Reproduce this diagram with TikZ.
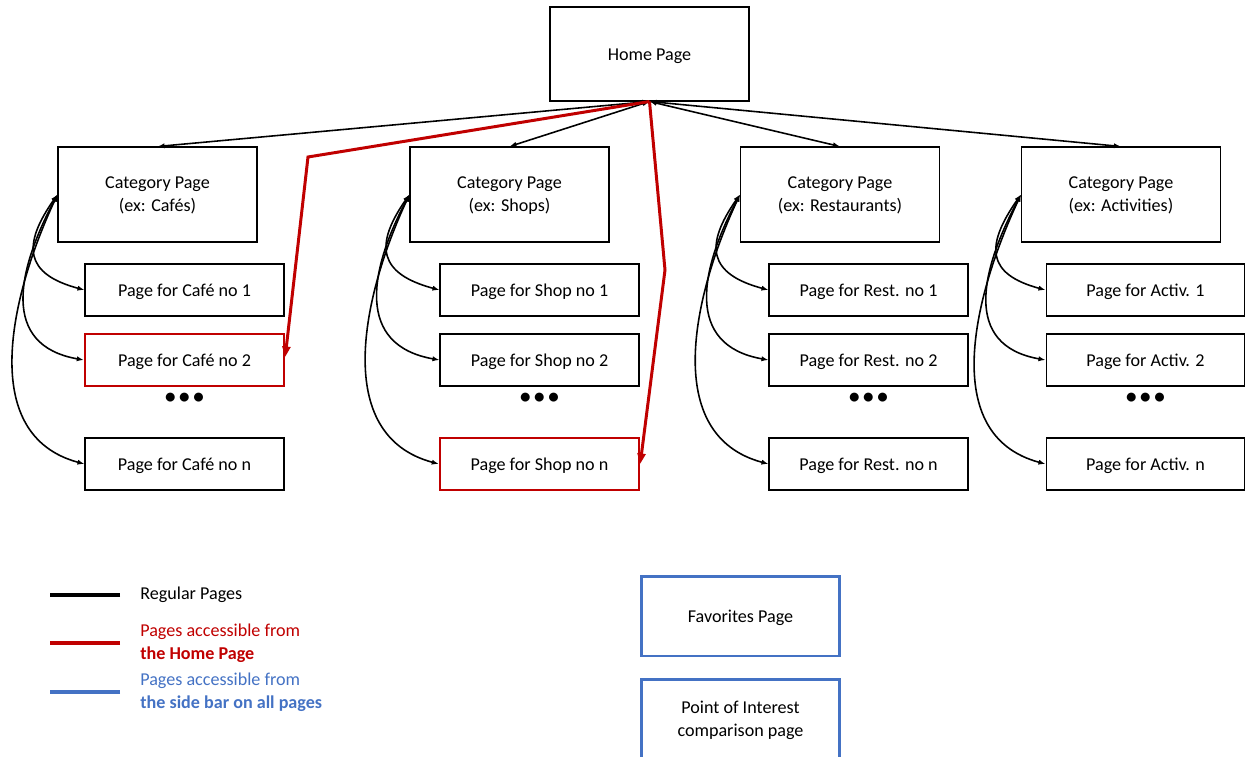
\documentclass[tikz,border=0pt]{standalone}
\usepackage{fontspec}
\setmainfont{Carlito}
\usetikzlibrary{arrows.meta}
\definecolor{homered}{HTML}{C00000}
\definecolor{sideblue}{HTML}{4472C4}
\tikzset{
	textspot/.style={align=center, text height=1em, text depth=0.22em},
	twoline/.style={align=center, text depth=0pt},
	catbox/.style={draw, line width=0.6pt, minimum width=3.98cm, minimum height=1.9cm, twoline},
	pagebox/.style={draw, line width=0.6pt, minimum width=3.98cm, minimum height=1.04cm, textspot},
	redbox/.style={pagebox, draw=homered, line width=1.4pt},
	bluebox/.style={draw=sideblue, line width=1.7pt, minimum width=3.98cm, minimum height=1.6cm},
	twoway/.style={{Latex[length=4pt,width=3pt]}-{Latex[length=4pt,width=3pt]}, line width=0.9pt},
	redpath/.style={-{Triangle[length=6pt,width=4.5pt]}, homered, line width=1.7pt},
	legline/.style={line width=1.8pt},
	legtext/.style={anchor=west, align=left, inner sep=0pt},
	dots/.style={font=\bfseries\fontsize{12}{12}\selectfont}
}
\begin{document}
\begin{tikzpicture}[x=0.02cm, y=-0.02cm, font=\fontsize{10.3}{13}\selectfont]
				\useasboundingbox (0, 0) rectangle (1245, 757);
				\clip (0, 0) rectangle (1245, 757);
				% home and categories
				\node [catbox, textspot, minimum height=1.88cm] (home) at (649.5, 54) {Home Page};
				\node [catbox] (cafes) at (157.5, 194.5) {Category Page\\(ex: Cafés)};
				\node [catbox] (shops) at (509.5, 194.5) {Category Page\\(ex: Shops)};
				\node [catbox] (rests) at (840, 194.5) {Category Page\\(ex: Restaurants)};
				\node [catbox] (activs) at (1121, 194.5) {Category Page\\(ex: Activities)};
				% cafe pages
				\node [pagebox] (cafe1) at (184.5, 290) {Page for Café no 1};
				\node [redbox] (cafe2) at (184.5, 360) {Page for Café no 2};
				\node [dots] (cafedots) at (184.5, 398) {•\,•\,•};
				\node [pagebox] (cafen) at (184.5, 464) {Page for Café no n};
				% shop pages
				\node [pagebox] (shop1) at (539.5, 290) {Page for Shop no 1};
				\node [pagebox] (shop2) at (539.5, 360) {Page for Shop no 2};
				\node [dots] (shopdots) at (539.5, 398) {•\,•\,•};
				\node [redbox] (shopn) at (539.5, 464) {Page for Shop no n};
				% restaurant pages
				\node [pagebox] (rest1) at (868.5, 290) {Page for Rest. no 1};
				\node [pagebox] (rest2) at (868.5, 360) {Page for Rest. no 2};
				\node [dots] (restdots) at (868.5, 398) {•\,•\,•};
				\node [pagebox] (restn) at (868.5, 464) {Page for Rest. no n};
				% activity pages
				\node [pagebox] (activ1) at (1145.5, 290) {Page for Activ. 1};
				\node [pagebox] (activ2) at (1145.5, 360) {Page for Activ. 2};
				\node [dots] (activdots) at (1145.5, 398) {•\,•\,•};
				\node [pagebox] (activn) at (1145.5, 464) {Page for Activ. n};
				% side bar pages
				\node [bluebox, textspot] (favs) at (740.5, 616) {Favorites Page};
				\node [bluebox, twoline] (compare) at (740.5, 719) {Point of Interest\\comparison page};
				% home links
				\draw [twoway] (home.south) -- (cafes.north);
				\draw [twoway] (home.south) -- (shops.north);
				\draw [twoway] (home.south) -- (rests.north);
				\draw [twoway] (home.south) -- (activs.north);
				% category links
				\draw [twoway] (cafes.west) to[out=235, in=165, looseness=1.6] (cafe1.west);
				\draw [twoway] (cafes.west) to[out=242, in=170, looseness=1.3] (cafe2.west);
				\draw [twoway] (cafes.west) to[out=245, in=165, looseness=1.05] (cafen.west);
				\draw [twoway] (shops.west) to[out=235, in=165, looseness=1.6] (shop1.west);
				\draw [twoway] (shops.west) to[out=242, in=170, looseness=1.3] (shop2.west);
				\draw [twoway] (shops.west) to[out=245, in=165, looseness=1.05] (shopn.west);
				\draw [twoway] (rests.west) to[out=235, in=165, looseness=1.6] (rest1.west);
				\draw [twoway] (rests.west) to[out=242, in=170, looseness=1.3] (rest2.west);
				\draw [twoway] (rests.west) to[out=245, in=165, looseness=1.05] (restn.west);
				\draw [twoway] (activs.west) to[out=235, in=165, looseness=1.6] (activ1.west);
				\draw [twoway] (activs.west) to[out=242, in=170, looseness=1.3] (activ2.west);
				\draw [twoway] (activs.west) to[out=245, in=165, looseness=1.05] (activn.west);
				% shortcuts from home
				\coordinate (bendcafe) at (308, 157);
				\coordinate (bendshop) at (665, 270);
				\draw [redpath] (home.south) -- (bendcafe) -- (cafe2.north east |- 0, 357);
				\draw [redpath] (home.south) -- (bendshop) -- (shopn.east);
				% legend
				\node [legtext] (legblack) at (140, 595) {Regular Pages};
				\node [legtext, text=homered] (legred) at (140, 643) {Pages accessible from\\\textbf{the Home Page}};
				\node [legtext, text=sideblue] (legblue) at (140, 692) {Pages accessible from\\\textbf{the side bar on all pages}};
				\draw [legline] (legblack.west) ++(-20, 0) -- ++(-70, 0);
				\draw [legline, homered] (legred.west) ++(-20, 0) -- ++(-70, 0);
				\draw [legline, sideblue] (legblue.west) ++(-20, 0) -- ++(-70, 0);
			\end{tikzpicture}
\end{document}
